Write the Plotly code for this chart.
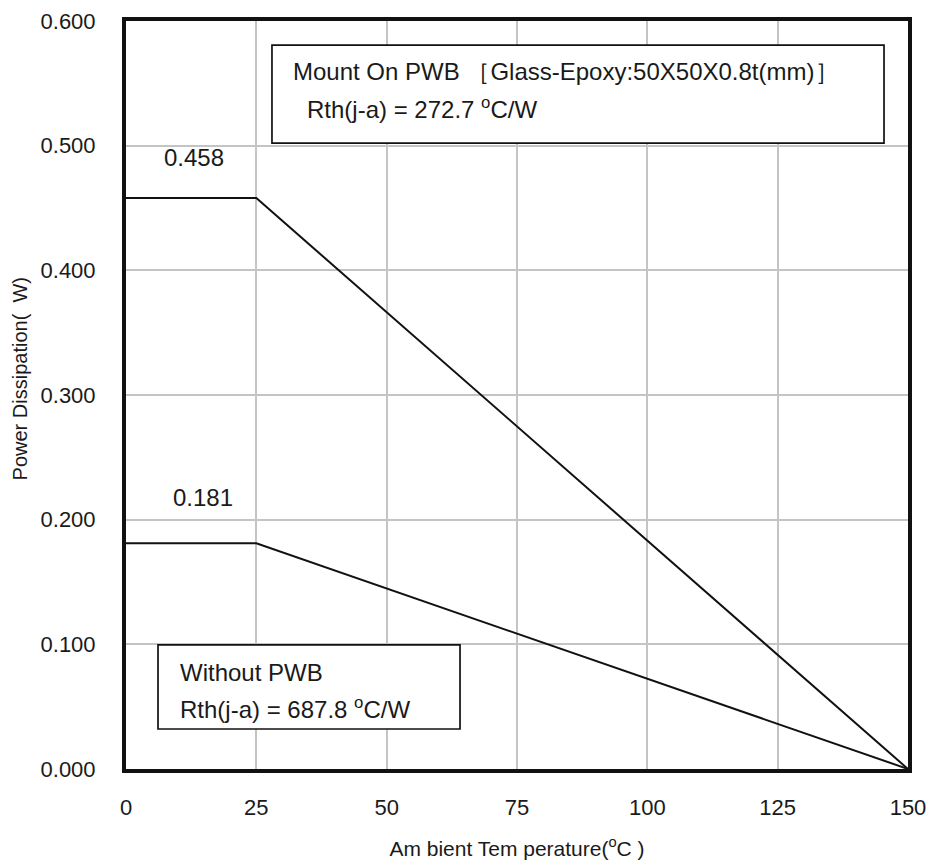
import plotly.graph_objects as go

temps = [0, 25, 150]
pd_pwb = [0.458, 0.458, 0.0]
pd_nopwb = [0.181, 0.181, 0.0]
x_ticks = [0, 25, 50, 75, 100, 125, 150]
y_ticks = [0.0, 0.1, 0.2, 0.3, 0.4, 0.5, 0.6]
y_tick_labels = ["0.000", "0.100", "0.200", "0.300", "0.400", "0.500", "0.600"]

font = "Liberation Sans, Arial, sans-serif"
tc = "#1a1a1a"

fig = go.Figure()
fig.add_trace(go.Scatter(x=temps, y=pd_pwb, mode="lines",
                         line=dict(color="#111", width=2), showlegend=False))
fig.add_trace(go.Scatter(x=temps, y=pd_nopwb, mode="lines",
                         line=dict(color="#111", width=2), showlegend=False))

# annotation boxes
fig.add_shape(type="rect", x0=28.0, x1=145.4, y0=0.5021, y1=0.5807,
              line=dict(color="#111", width=1.7), fillcolor="white", layer="above")
fig.add_shape(type="rect", x0=6.14, x1=64.07, y0=0.0321, y1=0.0995,
              line=dict(color="#111", width=1.7), fillcolor="white", layer="above")

fs = 24
fig.add_annotation(x=31.6, y=0.5593, xanchor="left", yanchor="middle", showarrow=False,
                   text="Mount On PWB ［Glass-Epoxy:50X50X0.8t(mm)］",
                   font=dict(family=font, size=fs, color=tc))
fig.add_annotation(x=34.4, y=0.5302, xanchor="left", yanchor="middle", showarrow=False,
                   text="Rth(j-a) = 272.7 <sup>o</sup>C/W",
                   font=dict(family=font, size=fs, color=tc))
fig.add_annotation(x=9.9, y=0.0778, xanchor="left", yanchor="middle", showarrow=False,
                   text="Without PWB",
                   font=dict(family=font, size=fs, color=tc))
fig.add_annotation(x=9.9, y=0.0489, xanchor="left", yanchor="middle", showarrow=False,
                   text="Rth(j-a) = 687.8 <sup>o</sup>C/W",
                   font=dict(family=font, size=fs, color=tc))

fig.add_annotation(x=13.0, y=0.4909, showarrow=False, text=f"{pd_pwb[0]:.3f}",
                   font=dict(family=font, size=fs, color=tc))
fig.add_annotation(x=14.8, y=0.2174, showarrow=False, text=f"{pd_nopwb[0]:.3f}",
                   font=dict(family=font, size=fs, color=tc))

# y-axis title (placed as annotation to match its off-centre position)
fig.add_annotation(xref="paper", yref="paper", x=-0.135, y=0.5214,
                   xanchor="center", yanchor="middle", textangle=-90, showarrow=False,
                   text="Power Dissipation(  W)",
                   font=dict(family=font, size=20, color=tc))

fig.update_layout(
    width=934, height=866,
    margin=dict(l=118, r=34, t=13, b=105),
    plot_bgcolor="white", paper_bgcolor="white",
    font=dict(family=font, color=tc),
)
fig.update_xaxes(range=[0, 150], tickvals=x_ticks, ticktext=[str(t) for t in x_ticks],
                 showgrid=True, gridcolor="#c4c4c4", gridwidth=1.5, automargin=False,
                 showline=True, linecolor="#111", linewidth=4, mirror=True,
                 ticks="", ticklen=0, tickfont=dict(size=22, color=tc), zeroline=False,
                 ticklabelstandoff=16,
                 title=dict(text="Am bient Tem perature(<sup>o</sup>C )",
                            font=dict(size=21, color=tc), standoff=23))
fig.update_yaxes(range=[0, 0.6], tickvals=y_ticks, ticktext=y_tick_labels,
                 showgrid=True, gridcolor="#c4c4c4", gridwidth=1.5, automargin=False,
                 showline=True, linecolor="#111", linewidth=4, mirror=True,
                 ticks="", ticklen=0, tickfont=dict(size=22, color=tc), zeroline=False,
                 ticklabelstandoff=22)

fig.write_html("out.html")
